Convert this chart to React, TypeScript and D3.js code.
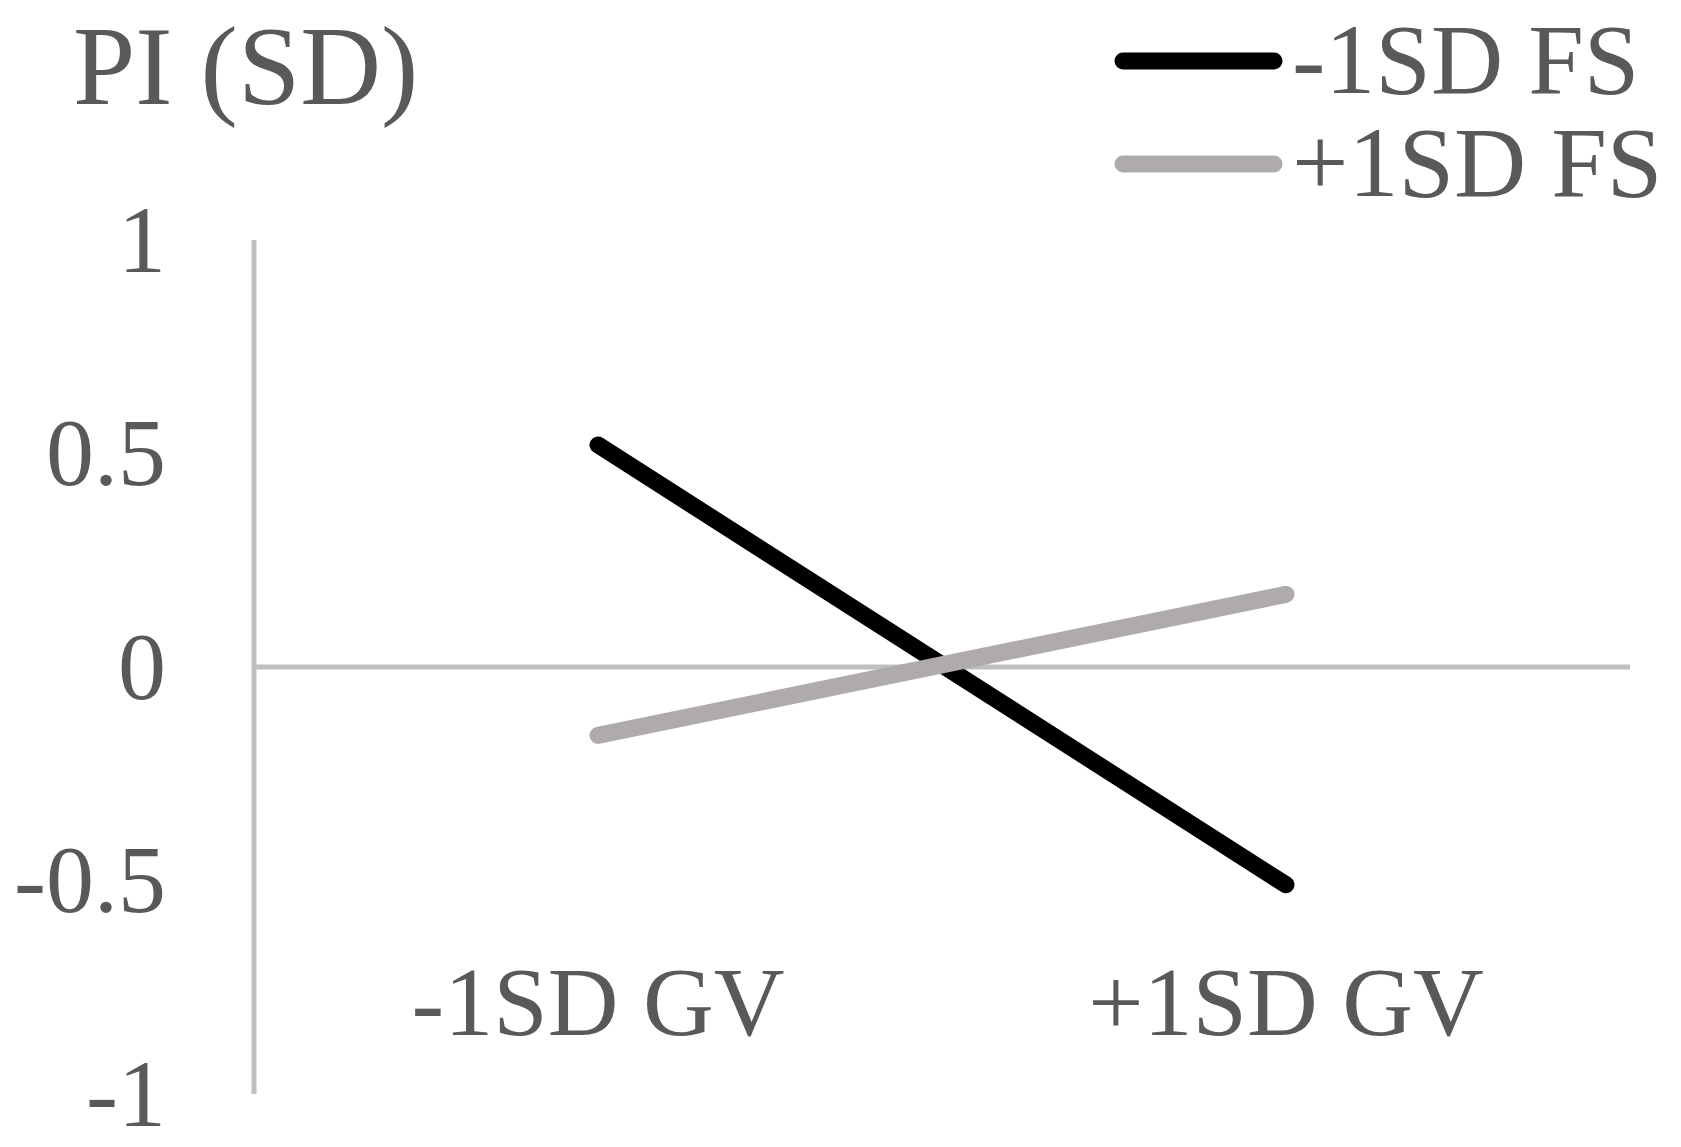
import React from "react";
import * as d3 from "d3";

const categories = ["-1SD GV", "+1SD GV"];
const seriesNames = ["-1SD FS", "+1SD FS"];
const seriesLowFS = [0.52, -0.51];
const seriesHighFS = [-0.16, 0.17];
const yTicks = [1, 0.5, 0, -0.5, -1];
const yTickLabels = ["1", "0.5", "0", "-0.5", "-1"];
const seriesColors = ["#000000", "#AFABAB"];

const W = 1681;
const H = 1147;
const FONT = "'Liberation Serif', 'Times New Roman', serif";
const TEXT = "#595959";

export default function App() {
  const x = d3.scaleBand<string>().domain(categories).range([254, 1630]);
  const y = d3.scaleLinear().domain([-1, 1]).range([1094, 240]);
  const series = [seriesLowFS, seriesHighFS];
  const line = d3
    .line<number>()
    .x((_, i) => (x(categories[i]) as number) + x.bandwidth() / 2)
    .y((d) => y(d));

  return (
    <svg
      width={W}
      height={H}
      style={{ position: "absolute", left: 0, top: 0, background: "#fff" }}
      fontFamily={FONT}
    >
      <text x={73} y={104} fontSize={112} fill={TEXT}>
        PI (SD)
      </text>
      {yTicks.map((t, i) => (
        <text
          key={t}
          x={166}
          y={y(t)}
          dy="0.33em"
          textAnchor="end"
          fontSize={96}
          fill={TEXT}
        >
          {yTickLabels[i]}
        </text>
      ))}
      <line x1={254} x2={254} y1={y(1)} y2={y(-1)} stroke="#BFBFBF" strokeWidth={5} />
      <line x1={254} x2={1630} y1={y(0)} y2={y(0)} stroke="#BFBFBF" strokeWidth={5} />
      {categories.map((c) => (
        <text
          key={c}
          x={(x(c) as number) + x.bandwidth() / 2}
          y={1035}
          textAnchor="middle"
          fontSize={98}
          fill={TEXT}
        >
          {c}
        </text>
      ))}
      {series.map((s, i) => (
        <path
          key={i}
          d={line(s) || ""}
          fill="none"
          stroke={seriesColors[i]}
          strokeWidth={17}
          strokeLinecap="round"
        />
      ))}
      {seriesNames.map((n, i) => (
        <g key={n}>
          <line
            x1={1123}
            x2={1274}
            y1={61 + i * 103}
            y2={61 + i * 103}
            stroke={seriesColors[i]}
            strokeWidth={17}
            strokeLinecap="round"
          />
          <text x={1292} y={93 + i * 103} fontSize={100} fill={TEXT}>
            {n}
          </text>
        </g>
      ))}
    </svg>
  );
}
